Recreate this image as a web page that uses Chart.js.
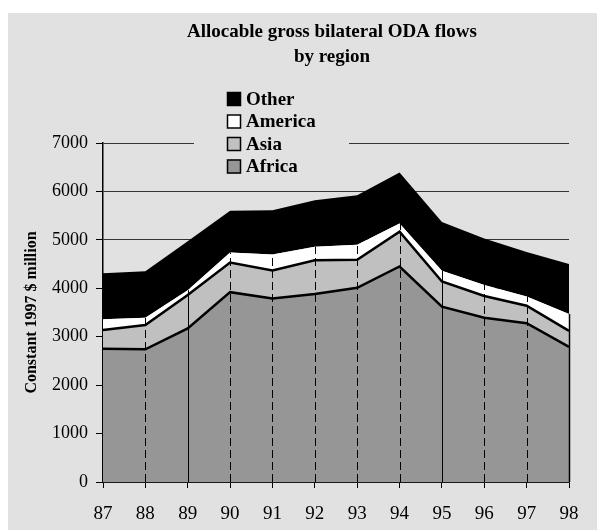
<!DOCTYPE html>
<html>
<head>
<meta charset="utf-8">
<script src="https://cdn.jsdelivr.net/npm/chart.js@4.4.1/dist/chart.umd.min.js"></script>
<style>
  body { margin: 0; background: #fff; }
  #panel { position: absolute; left: 8px; top: 13px; width: 589px; height: 517px; background: #e1e1e1; }
</style>
</head>
<body>
<div id="panel"><canvas id="odaChart" width="589" height="517"></canvas></div>
<script>
// values, constant 1997 $ million
const years = ['87', '88', '89', '90', '91', '92', '93', '94', '95', '96', '97', '98'];
const africa = [2750, 2740, 3170, 3920, 3790, 3880, 4010, 4450, 3620, 3390, 3280, 2790];
const asia = [390, 500, 690, 610, 580, 700, 580, 720, 520, 450, 360, 330];
const america = [220, 150, 100, 210, 330, 280, 310, 170, 220, 230, 190, 350];
const other = [950, 960, 1010, 860, 910, 960, 1020, 1050, 1010, 960, 920, 1030];
const titleLines = ['Allocable gross bilateral ODA flows', 'by region'];

const serif = "'Liberation Serif', 'Times New Roman', serif";

// title is not centred on the panel, so it is drawn here
const offsetTitle = {
    id: 'offsetTitle',
    afterDraw(chart) {
        const { ctx } = chart;
        ctx.save();
        ctx.font = 'bold 19px ' + serif;
        ctx.fillStyle = '#000';
        ctx.textAlign = 'center';
        ctx.textBaseline = 'alphabetic';
        titleLines.forEach((t, i) => ctx.fillText(t, 324, 24 + i * 25));
        ctx.restore();
    }
};

// dashed drop lines from the axis up to the top of America
const dropLines = {
    id: 'dropLines',
    afterDatasetsDraw(chart) {
        const { ctx, scales: { x, y } } = chart;
        ctx.save();
        ctx.strokeStyle = '#000';
        years.forEach((yr, i) => {
            if (i === 0) return;
            const px = Math.round(x.getPixelForValue(i)) + 0.5;
            const top = y.getPixelForValue(africa[i] + asia[i] + america[i]);
            ctx.lineWidth = i === years.length - 1 ? 1.5 : 1;
            ctx.setLineDash([2, 8, 11].includes(i) ? [] : [8, 4]);
            ctx.beginPath();
            ctx.moveTo(px, y.bottom);
            ctx.lineTo(px, top);
            ctx.stroke();
        });
        ctx.restore();
    }
};

// legend sits inside the plot, on its own grey patch
const boxLegend = {
    id: 'boxLegend',
    afterDraw(chart) {
        const { ctx } = chart;
        const items = chart.data.datasets.slice().reverse();
        ctx.save();
        ctx.fillStyle = '#e1e1e1';
        ctx.fillRect(186, 74, 155, 94);
        ctx.font = 'bold 19px ' + serif;
        ctx.textBaseline = 'middle';
        items.forEach((ds, i) => {
            const cy = 86 + i * 22.5;
            ctx.fillStyle = ds.backgroundColor;
            ctx.fillRect(219, cy - 7, 14, 14);
            ctx.lineWidth = 1.5;
            ctx.strokeStyle = '#000';
            ctx.strokeRect(219.5, cy - 6.5, 13, 13);
            ctx.fillStyle = '#000';
            ctx.fillText(ds.label, 238, cy + 1);
        });
        ctx.restore();
    }
};

new Chart(document.getElementById('odaChart'), {
    type: 'line',
    data: {
        labels: years,
        datasets: [
            { label: 'Africa', data: africa, backgroundColor: '#969696', borderColor: '#000', borderWidth: 2.5, fill: 'origin' },
            { label: 'Asia', data: asia, backgroundColor: '#c0c0c0', borderColor: '#000', borderWidth: 2.5, fill: '-1' },
            { label: 'America', data: america, backgroundColor: '#ffffff', borderColor: '#ffffff', borderWidth: 0, fill: '-1' },
            { label: 'Other', data: other, backgroundColor: '#000000', borderColor: '#000000', borderWidth: 0, fill: '-1' }
        ]
    },
    options: {
        responsive: false,
        animation: false,
        elements: { point: { radius: 0 }, line: { tension: 0 } },
        layout: { padding: { left: 0, right: 28, top: 130, bottom: 0 } },
        plugins: {
            legend: { display: false },
            tooltip: { enabled: false },
            title: { display: false }
        },
        scales: {
            x: {
                offset: false,
                grid: { drawOnChartArea: false, drawTicks: true, tickLength: 6, color: '#000' },
                border: { color: '#000', width: 1.5 },
                ticks: { color: '#000', font: { family: serif, size: 19 }, padding: 15, maxRotation: 0 },
                afterFit(s) { s.height = 48; }
            },
            y: {
                stacked: true,
                min: 0,
                max: 7000,
                ticks: {
                    stepSize: 1000,
                    color: '#000',
                    font: { family: serif, size: 18 },
                    padding: 8,
                    callback: v => String(v)
                },
                grid: { color: '#333', tickLength: 7, tickColor: '#000' },
                border: { color: '#000', width: 1.5 },
                title: {
                    display: true,
                    text: 'Constant 1997 $ million',
                    color: '#000',
                    font: { family: serif, size: 16, weight: 'bold' },
                    padding: { top: 14, bottom: 0 }
                },
                afterFit(s) { s.width = 95; }
            }
        }
    },
    plugins: [dropLines, boxLegend, offsetTitle]
});
</script>
</body>
</html>
